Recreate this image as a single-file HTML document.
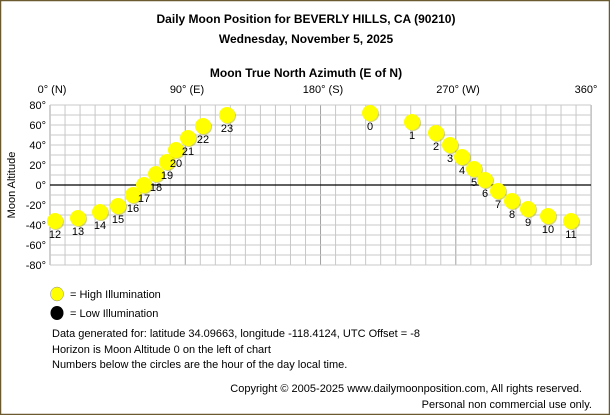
<!DOCTYPE html>
<html><head><style>
body{margin:0;background:#fff}
svg text{font-family:"Liberation Sans",sans-serif;}
</style></head><body>
<svg width="610" height="415" xmlns="http://www.w3.org/2000/svg">
<rect x="0.5" y="0.5" width="609" height="414" fill="#fff" stroke="#6b5a30" stroke-width="1.5"/>
<text x="306" y="23" font-size="12" font-weight="bold" text-anchor="middle">Daily Moon Position for BEVERLY HILLS, CA (90210)</text>
<text x="306" y="43" font-size="12" font-weight="bold" text-anchor="middle">Wednesday, November 5, 2025</text>
<text x="306" y="77" font-size="12" font-weight="bold" text-anchor="middle">Moon True North Azimuth (E of N)</text>
<g font-size="11" text-anchor="middle">
<text x="52" y="93">0° (N)</text><text x="187" y="93">90° (E)</text><text x="323" y="93">180° (S)</text><text x="458" y="93">270° (W)</text><text x="586" y="93">360°</text>
</g>
<g id="grid" stroke="#c8c8c8" stroke-width="1"></g>
<g font-size="11" text-anchor="end" id="yl"></g>
<text transform="translate(15,185) rotate(-90)" font-size="11" text-anchor="middle">Moon Altitude</text>
<line x1="50" y1="185" x2="591" y2="185" stroke="#000" stroke-width="1.2"/>
<g id="pts"></g>
<ellipse cx="57" cy="294" rx="6.5" ry="7" fill="#ffff00" stroke="#888" stroke-width="0.5"/>
<ellipse cx="57" cy="313" rx="6.5" ry="7" fill="#000"/>
<g font-size="11">
<text x="70" y="298">= High Illumination</text>
<text x="70" y="317">= Low Illumination</text>
<text x="52" y="337">Data generated for: latitude 34.09663, longitude -118.4124, UTC Offset = -8</text>
<text x="52" y="353">Horizon is Moon Altitude 0 on the left of chart</text>
<text x="52" y="368">Numbers below the circles are the hour of the day local time.</text>
<text x="582" y="392" text-anchor="end">Copyright © 2005-2025 www.dailymoonposition.com, All rights reserved.</text>
<text x="592" y="408" text-anchor="end">Personal non commercial use only.</text>
</g>
<script>
var ns="http://www.w3.org/2000/svg",g=document.getElementById('grid');
function el(p,t,a){var e=document.createElementNS(ns,t);for(var k in a)e.setAttribute(k,a[k]);p.appendChild(e);return e;}
for(var i=0;i<=36;i++){var x=50+i*15.03;el(g,'line',{x1:x,y1:105,x2:x,y2:265,stroke:(i%9==0?'#a0a0a0':'#c8c8c8')});}
for(var j=0;j<=16;j++){var y=105+j*10;el(g,'line',{x1:50,y1:y,x2:591,y2:y});}
var yl=document.getElementById('yl');
for(var v=80;v>=-80;v-=20){var t=el(yl,'text',{x:46,y:185-v+4});t.textContent=v+'°';}
var P=[[0,370,113],[1,412,122],[2,436,133],[3,450,145],[4,462,157],[5,474,169],[6,485,180],[7,498,191],[8,512,201],[9,528,209],[10,548,216],[11,571,221],[12,55,221],[13,78,218],[14,100,212],[15,118,206],[16,133,195],[17,144,185],[18,156,174],[19,167,162],[20,176,150],[21,188,138],[22,203,126],[23,227,115]];
var pg=document.getElementById('pts');
P.forEach(function(p){el(pg,'circle',{cx:p[1]+1,cy:p[2]+1,r:8,fill:'#b0b000',opacity:0.5});el(pg,'circle',{cx:p[1],cy:p[2],r:8,fill:'#ffff00'});});
P.forEach(function(p){var t=el(pg,'text',{x:p[1],y:p[2]+17,'font-size':11,'text-anchor':'middle'});t.textContent=p[0];});
</script>
</svg>
</body></html>
